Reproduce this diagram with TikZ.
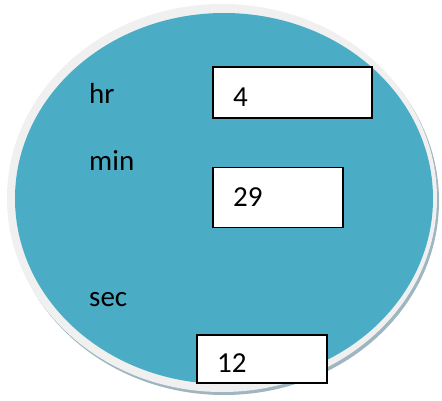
\documentclass[tikz,border=0pt]{standalone}
\usepackage{fontspec}
\setmainfont{Carlito}
\definecolor{discblue}{HTML}{4BACC6}
\definecolor{ringgray}{HTML}{F0F0F0}
\definecolor{shadowgray}{HTML}{9DB6BF}
\begin{document}
\begin{tikzpicture}[x=1pt,y=-1pt,
  lbl/.style={anchor=base west,inner sep=0pt,font=\fontsize{29}{32}\selectfont},
  valbox/.style={draw=black,line width=1.6pt,fill=white,inner sep=0pt}]
\useasboundingbox (0,0) rectangle (442,400);
% shadow, ring, disc
\fill[shadowgray] (224,201) ellipse[x radius=215,y radius=194];
\fill[ringgray] (222,198) ellipse[x radius=215,y radius=194];
\fill[discblue] (224,198.5) ellipse[x radius=209,y radius=185.5];
% value boxes
\node[valbox,minimum width=159pt,minimum height=51pt] (bhr) at (292.5,92.5) {};
\node[valbox,minimum width=130pt,minimum height=60pt] (bmin) at (278,197.5) {};
\node[valbox,minimum width=130pt,minimum height=48pt] (bsec) at (262,359) {};
% labels
\node[lbl] (lhr) at (89,103) {hr};
\node[lbl] (lmin) at (89,170) {min};
\node[lbl] (lsec) at (89,306) {sec};
% values
\node[lbl] (vhr) at (233,106.5) {4};
\node[lbl] (vmin) at (233,206.5) {29};
\node[lbl] (vsec) at (217,372.5) {12};
\end{tikzpicture}
\end{document}
